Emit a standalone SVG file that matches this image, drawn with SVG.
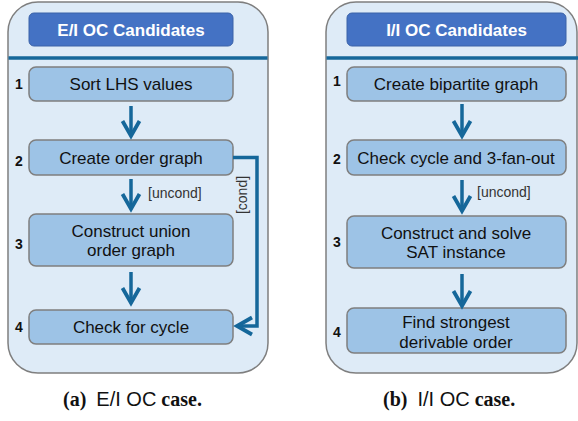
<svg xmlns="http://www.w3.org/2000/svg" width="578" height="421" viewBox="0 0 578 421">
<defs>
<marker id="chev" markerUnits="userSpaceOnUse" viewBox="-20 -12 24 24" markerWidth="24" markerHeight="24" refX="0" refY="0" orient="auto" overflow="visible">
<path d="M-15,-8.5 L0,0 L-15,8.5" fill="none" stroke="#15679A" stroke-width="3.8" stroke-linecap="butt" stroke-linejoin="miter"/>
</marker>
<style>
.panel{fill:#DEEBF7;stroke:#7F7F7F;stroke-width:1.5}
.sep{stroke:#15679A;stroke-width:3.5}
.hdr{fill:#4472C4;stroke:#3A62A8;stroke-width:1}
.hdrt{font-family:"Liberation Sans",Arial,sans-serif;font-weight:bold;font-size:17px;fill:#FFFFFF;text-anchor:middle}
.box{fill:#9DC3E6;stroke:#7F7F7F;stroke-width:1.5}
.bt{font-family:"Liberation Sans",Arial,sans-serif;font-size:17px;fill:#111111;text-anchor:middle}
.num{font-family:"Liberation Sans",Arial,sans-serif;font-weight:bold;font-size:14px;fill:#111111;text-anchor:middle}
.lbl{font-family:"Liberation Sans",Arial,sans-serif;font-size:14px;fill:#333333}
.conn{fill:none;stroke:#15679A;stroke-width:3.5;marker-end:url(#chev)}
.cap{font-family:"Liberation Serif","Times New Roman",serif;font-weight:bold;font-size:20px;fill:#111111}
.capS{font-family:"Liberation Sans",Arial,sans-serif;font-weight:normal}
</style>
</defs>

<g id="panelA">
<rect class="panel" x="8" y="2" width="260" height="371" rx="30"/>
<line class="sep" x1="8.5" y1="58" x2="267.5" y2="58"/>
</g>
<g id="panelB">
<rect class="panel" x="326" y="2" width="251" height="371" rx="30"/>
<line class="sep" x1="326.5" y1="58" x2="578" y2="58"/>
</g>

<g id="headerA">
<rect class="hdr" x="29" y="13" width="204" height="33" rx="5"/>
<text class="hdrt" x="131" y="35.5">E/I OC Candidates</text>
</g>
<g id="headerB">
<rect class="hdr" x="347" y="13" width="219" height="33" rx="5"/>
<text class="hdrt" x="456.5" y="35.5">I/I OC Candidates</text>
</g>

<g id="a1">
<rect class="box" x="29" y="67" width="204" height="34" rx="7"/>
<text class="bt" x="131" y="90">Sort LHS values</text>
<text class="num" x="19" y="89">1</text>
</g>
<g id="a2">
<rect class="box" x="29" y="140" width="204" height="35" rx="7"/>
<text class="bt" x="131" y="163.5">Create order graph</text>
<text class="num" x="19" y="166">2</text>
</g>
<g id="a3">
<rect class="box" x="29" y="214" width="204" height="52" rx="7"/>
<text class="bt" x="131" y="237">Construct union</text>
<text class="bt" x="131" y="256">order graph</text>
<text class="num" x="19" y="249">3</text>
</g>
<g id="a4">
<rect class="box" x="29" y="310" width="204" height="34" rx="7"/>
<text class="bt" x="131" y="333">Check for cycle</text>
<text class="num" x="19" y="332">4</text>
</g>

<g id="b1">
<rect class="box" x="347" y="67" width="219" height="34" rx="7"/>
<text class="bt" x="456" y="90">Create bipartite graph</text>
<text class="num" x="337" y="86">1</text>
</g>
<g id="b2">
<rect class="box" x="347" y="140" width="219" height="35" rx="7"/>
<text class="bt" x="456" y="163.5">Check cycle and 3-fan-out</text>
<text class="num" x="337" y="164">2</text>
</g>
<g id="b3">
<rect class="box" x="347" y="216" width="219" height="52" rx="7"/>
<text class="bt" x="456" y="239">Construct and solve</text>
<text class="bt" x="456" y="258">SAT instance</text>
<text class="num" x="337" y="247">3</text>
</g>
<g id="b4">
<rect class="box" x="347" y="308" width="219" height="45" rx="7"/>
<text class="bt" x="456" y="328">Find strongest</text>
<text class="bt" x="456" y="348">derivable order</text>
<text class="num" x="337" y="337">4</text>
</g>

<g id="connectors">
<path class="conn" d="M131,106 V136"/>
<path class="conn" d="M131,179 V209"/>
<path class="conn" d="M131,272 V303"/>
<path class="conn" d="M233,157.5 H257 V326 H237"/>
<path class="conn" d="M462,104 V136"/>
<path class="conn" d="M462,180 V211"/>
<path class="conn" d="M462,274 V306"/>
<text class="lbl" x="148" y="198">[uncond]</text>
<text class="lbl" x="477" y="197">[uncond]</text>
<text class="lbl" text-anchor="middle" transform="translate(247,195) rotate(-90)">[cond]</text>
</g>

<g id="captions">
<text class="cap" x="63" y="406" xml:space="preserve">(a)  <tspan class="capS">E/I OC</tspan> case.</text>
<text class="cap" x="383" y="406" xml:space="preserve">(b)  <tspan class="capS">I/I OC</tspan> case.</text>
</g>
</svg>
